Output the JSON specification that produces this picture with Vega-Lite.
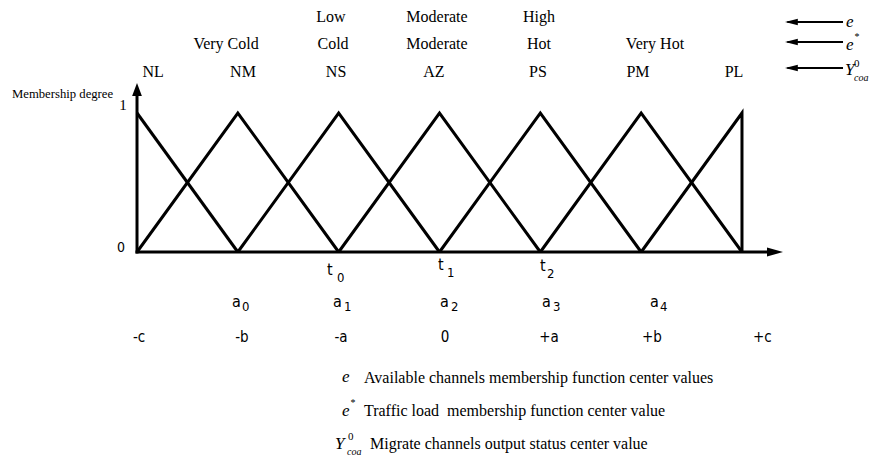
{
  "$schema": "https://vega.github.io/schema/vega-lite/v6.json",
  "width": 876,
  "height": 460,
  "autosize": {"type": "none"},
  "padding": 0,
  "background": "white",
  "config": {"view": {"stroke": null}},
  "datasets": {
    "fns": [
      {"fn": "NL", "i": 0, "x": -3, "y": 1}, {"fn": "NL", "i": 1, "x": -2, "y": 0},
      {"fn": "NM", "i": 0, "x": -3, "y": 0}, {"fn": "NM", "i": 1, "x": -2, "y": 1}, {"fn": "NM", "i": 2, "x": -1, "y": 0},
      {"fn": "NS", "i": 0, "x": -2, "y": 0}, {"fn": "NS", "i": 1, "x": -1, "y": 1}, {"fn": "NS", "i": 2, "x": 0, "y": 0},
      {"fn": "AZ", "i": 0, "x": -1, "y": 0}, {"fn": "AZ", "i": 1, "x": 0, "y": 1}, {"fn": "AZ", "i": 2, "x": 1, "y": 0},
      {"fn": "PS", "i": 0, "x": 0, "y": 0}, {"fn": "PS", "i": 1, "x": 1, "y": 1}, {"fn": "PS", "i": 2, "x": 2, "y": 0},
      {"fn": "PM", "i": 0, "x": 1, "y": 0}, {"fn": "PM", "i": 1, "x": 2, "y": 1}, {"fn": "PM", "i": 2, "x": 3, "y": 0},
      {"fn": "PL", "i": 0, "x": 2, "y": 0}, {"fn": "PL", "i": 1, "x": 3, "y": 1}, {"fn": "PL", "i": 2, "x": 3, "y": 0}
    ],
    "axes": [
      {"fn": "yaxis", "i": 0, "x": -3, "y": 0}, {"fn": "yaxis", "i": 1, "x": -3, "y": 1.13},
      {"fn": "xaxis", "i": 0, "x": -3, "y": 0}, {"fn": "xaxis", "i": 1, "x": 3.3, "y": 0}
    ],
    "pointers": [
      {"fn": "e", "i": 0, "x": 3.45, "y": 1.655}, {"fn": "e", "i": 1, "x": 4.002, "y": 1.655},
      {"fn": "estar", "i": 0, "x": 3.45, "y": 1.511}, {"fn": "estar", "i": 1, "x": 4.002, "y": 1.511},
      {"fn": "Y", "i": 0, "x": 3.45, "y": 1.324}, {"fn": "Y", "i": 1, "x": 4.002, "y": 1.324}
    ],
    "heads": [
      {"dir": "up", "x": -3, "y": 1.216},
      {"dir": "right", "x": 3.407, "y": 0},
      {"dir": "left", "x": 3.427, "y": 1.655},
      {"dir": "left", "x": 3.427, "y": 1.511},
      {"dir": "left", "x": 3.427, "y": 1.324}
    ],
    "texts": [
      {"kind": "head", "label": "Low", "x": -1.076, "y": 1.655},
      {"kind": "head", "label": "Moderate", "x": -0.025, "y": 1.655},
      {"kind": "head", "label": "High", "x": 0.987, "y": 1.655},
      {"kind": "head", "label": "Very Cold", "x": -2.117, "y": 1.46},
      {"kind": "head", "label": "Cold", "x": -1.056, "y": 1.46},
      {"kind": "head", "label": "Moderate", "x": -0.025, "y": 1.46},
      {"kind": "head", "label": "Hot", "x": 0.987, "y": 1.46},
      {"kind": "head", "label": "Very Hot", "x": 2.137, "y": 1.46},
      {"kind": "head", "label": "NL", "x": -2.841, "y": 1.259},
      {"kind": "head", "label": "NM", "x": -1.949, "y": 1.259},
      {"kind": "head", "label": "NS", "x": -1.026, "y": 1.259},
      {"kind": "head", "label": "AZ", "x": -0.055, "y": 1.259},
      {"kind": "head", "label": "PS", "x": 0.977, "y": 1.259},
      {"kind": "head", "label": "PM", "x": 1.969, "y": 1.259},
      {"kind": "head", "label": "PL", "x": 2.921, "y": 1.259},
      {"kind": "ylab", "label": "Membership degree", "x": -4.24, "y": 1.108},
      {"kind": "one", "label": "1", "x": -3.139, "y": 1.022},
      {"kind": "zero", "label": "0", "x": -3.159, "y": 0},
      {"kind": "sym", "label": "t", "x": -1.116, "y": -0.165},
      {"kind": "sym", "label": "t", "x": -0.015, "y": -0.129},
      {"kind": "sym", "label": "t", "x": 0.997, "y": -0.137},
      {"kind": "sub", "label": "0", "x": -1.017, "y": -0.216},
      {"kind": "sub", "label": "1", "x": 0.074, "y": -0.18},
      {"kind": "sub", "label": "2", "x": 1.066, "y": -0.187},
      {"kind": "sym", "label": "a", "x": -2.058, "y": -0.396},
      {"kind": "sym", "label": "a", "x": -1.056, "y": -0.396},
      {"kind": "sym", "label": "a", "x": 0.005, "y": -0.396},
      {"kind": "sym", "label": "a", "x": 1.017, "y": -0.396},
      {"kind": "sym", "label": "a", "x": 2.088, "y": -0.396},
      {"kind": "sub", "label": "0", "x": -1.959, "y": -0.424},
      {"kind": "sub", "label": "1", "x": -0.947, "y": -0.424},
      {"kind": "sub", "label": "2", "x": 0.114, "y": -0.424},
      {"kind": "sub", "label": "3", "x": 1.126, "y": -0.424},
      {"kind": "sub", "label": "4", "x": 2.187, "y": -0.424},
      {"kind": "val", "label": "-c", "x": -2.98, "y": -0.647},
      {"kind": "val", "label": "-b", "x": -1.959, "y": -0.647},
      {"kind": "val", "label": "-a", "x": -0.977, "y": -0.647},
      {"kind": "val", "label": "0", "x": 0.055, "y": -0.647},
      {"kind": "val", "label": "+a", "x": 1.086, "y": -0.647},
      {"kind": "val", "label": "+b", "x": 2.107, "y": -0.647},
      {"kind": "val", "label": "+c", "x": 3.202, "y": -0.647},
      {"kind": "ital", "label": "e", "x": 4.032, "y": 1.619},
      {"kind": "ital", "label": "e", "x": 4.032, "y": 1.453},
      {"kind": "ital", "label": "Y", "x": 4.022, "y": 1.273},
      {"kind": "ital", "label": "e", "x": -0.967, "y": -0.935},
      {"kind": "ital", "label": "e", "x": -0.967, "y": -1.18},
      {"kind": "ital", "label": "Y", "x": -1.036, "y": -1.417},
      {"kind": "italsmall", "label": "*", "x": 4.111, "y": 1.525},
      {"kind": "italsmall", "label": "coa", "x": 4.111, "y": 1.23},
      {"kind": "italsmall", "label": "*", "x": -0.888, "y": -1.108},
      {"kind": "italsmall", "label": "coa", "x": -0.917, "y": -1.46},
      {"kind": "sup", "label": "0", "x": 4.111, "y": 1.331},
      {"kind": "sup", "label": "0", "x": -0.907, "y": -1.353},
      {"kind": "legend", "label": "Available channels membership function center values", "x": -0.749, "y": -0.942},
      {"kind": "legend", "label": "Traffic load\u00a0 membership function center value", "x": -0.749, "y": -1.18},
      {"kind": "legend", "label": "Migrate channels output status center value", "x": -0.689, "y": -1.417}
    ]
  },
  "encoding": {
    "x": {"field": "x", "type": "quantitative", "scale": {"domain": [-4.3588, 4.3291], "nice": false, "zero": false}, "axis": null},
    "y": {"field": "y", "type": "quantitative", "scale": {"domain": [-1.4964, 1.8129], "nice": false, "zero": false}, "axis": null}
  },
  "layer": [
    {
      "data": {"name": "fns"},
      "mark": {"type": "line", "color": "black", "strokeWidth": 3, "strokeJoin": "miter", "strokeCap": "butt"},
      "encoding": {"detail": {"field": "fn"}, "order": {"field": "i", "type": "quantitative"}}
    },
    {
      "data": {"name": "axes"},
      "mark": {"type": "line", "color": "black", "strokeWidth": 3, "strokeCap": "square"},
      "encoding": {"detail": {"field": "fn"}, "order": {"field": "i", "type": "quantitative"}}
    },
    {
      "data": {"name": "pointers"},
      "mark": {"type": "line", "color": "black", "strokeWidth": 2},
      "encoding": {"detail": {"field": "fn"}, "order": {"field": "i", "type": "quantitative"}}
    },
    {
      "data": {"name": "heads"},
      "transform": [{"filter": "datum.dir === 'up'"}],
      "mark": {"type": "point", "shape": "M0,0L-0.6,1.6L0.6,1.6Z", "size": 264, "filled": true, "color": "black", "opacity": 1, "strokeWidth": 0}
    },
    {
      "data": {"name": "heads"},
      "transform": [{"filter": "datum.dir === 'right'"}],
      "mark": {"type": "point", "shape": "M0,0L-1.6,-0.45L-1.6,0.45Z", "size": 400, "filled": true, "color": "black", "opacity": 1, "strokeWidth": 0}
    },
    {
      "data": {"name": "heads"},
      "transform": [{"filter": "datum.dir === 'left'"}],
      "mark": {"type": "point", "shape": "M0,0L1.6,-0.4L1.6,0.4Z", "size": 256, "filled": true, "color": "black", "opacity": 1, "strokeWidth": 0}
    },
    {
      "data": {"name": "texts"},
      "transform": [{"filter": "datum.kind === 'head'"}],
      "mark": {"type": "text", "font": "Liberation Serif", "fontSize": 16, "align": "center", "baseline": "alphabetic", "color": "black"},
      "encoding": {"text": {"field": "label"}}
    },
    {
      "data": {"name": "texts"},
      "transform": [{"filter": "datum.kind === 'ylab'"}],
      "mark": {"type": "text", "font": "Liberation Serif", "fontSize": 12.7, "align": "left", "baseline": "alphabetic", "color": "black"},
      "encoding": {"text": {"field": "label"}}
    },
    {
      "data": {"name": "texts"},
      "transform": [{"filter": "datum.kind === 'one'"}],
      "mark": {"type": "text", "font": "Liberation Serif", "fontSize": 15, "align": "center", "baseline": "alphabetic", "color": "black"},
      "encoding": {"text": {"field": "label"}}
    },
    {
      "data": {"name": "texts"},
      "transform": [{"filter": "datum.kind === 'zero'"}],
      "mark": {"type": "text", "font": "DejaVu Sans Condensed, Liberation Sans Narrow, DejaVu Sans", "fontSize": 14, "align": "center", "baseline": "alphabetic", "color": "black"},
      "encoding": {"text": {"field": "label"}}
    },
    {
      "data": {"name": "texts"},
      "transform": [{"filter": "datum.kind === 'sym'"}],
      "mark": {"type": "text", "font": "DejaVu Sans Condensed, Liberation Sans Narrow, DejaVu Sans", "fontSize": 16, "align": "left", "baseline": "alphabetic", "color": "black"},
      "encoding": {"text": {"field": "label"}}
    },
    {
      "data": {"name": "texts"},
      "transform": [{"filter": "datum.kind === 'sub'"}],
      "mark": {"type": "text", "font": "DejaVu Sans Condensed, Liberation Sans Narrow, DejaVu Sans", "fontSize": 13, "align": "left", "baseline": "alphabetic", "color": "black"},
      "encoding": {"text": {"field": "label"}}
    },
    {
      "data": {"name": "texts"},
      "transform": [{"filter": "datum.kind === 'val'"}],
      "mark": {"type": "text", "font": "DejaVu Sans Condensed, Liberation Sans Narrow, DejaVu Sans", "fontSize": 15, "align": "center", "baseline": "alphabetic", "color": "black"},
      "encoding": {"text": {"field": "label"}}
    },
    {
      "data": {"name": "texts"},
      "transform": [{"filter": "datum.kind === 'ital'"}],
      "mark": {"type": "text", "font": "Liberation Serif", "fontSize": 17, "fontStyle": "italic", "align": "left", "baseline": "alphabetic", "color": "black"},
      "encoding": {"text": {"field": "label"}}
    },
    {
      "data": {"name": "texts"},
      "transform": [{"filter": "datum.kind === 'italsmall'"}],
      "mark": {"type": "text", "font": "Liberation Serif", "fontSize": 10, "fontStyle": "italic", "align": "left", "baseline": "alphabetic", "color": "black"},
      "encoding": {"text": {"field": "label"}}
    },
    {
      "data": {"name": "texts"},
      "transform": [{"filter": "datum.kind === 'sup'"}],
      "mark": {"type": "text", "font": "Liberation Serif", "fontSize": 11, "align": "left", "baseline": "alphabetic", "color": "black"},
      "encoding": {"text": {"field": "label"}}
    },
    {
      "data": {"name": "texts"},
      "transform": [{"filter": "datum.kind === 'legend'"}],
      "mark": {"type": "text", "font": "Liberation Serif", "fontSize": 16, "align": "left", "baseline": "alphabetic", "color": "black"},
      "encoding": {"text": {"field": "label"}}
    }
  ]
}
